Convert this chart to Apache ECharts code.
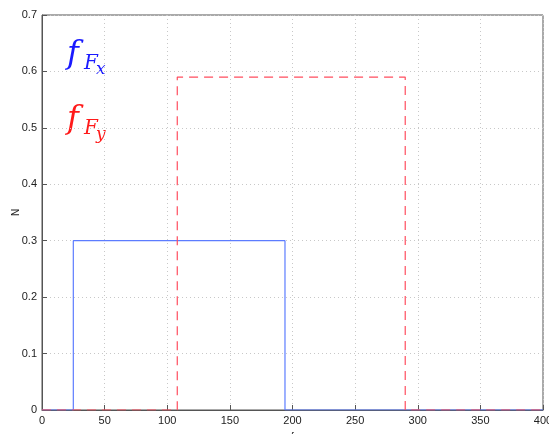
<!DOCTYPE html>
<html>
<head>
<meta charset="utf-8">
<script src="https://cdn.jsdelivr.net/npm/echarts@6/dist/echarts.min.js"></script>
<style>
  html, body { margin: 0; padding: 0; background: #fff; }
  #chart { width: 549px; height: 434px; }
</style>
</head>
<body>
<div id="chart"></div>
<script>
// Two rectangular densities drawn as step outlines
const xTicks = [0, 50, 100, 150, 200, 250, 300, 350, 400];
const yTicks = [0, 0.1, 0.2, 0.3, 0.4, 0.5, 0.6, 0.7];

const fxEdges = [0, 25, 25, 194, 194, 400];
const fxValues = [0, 0, 0.3, 0.3, 0, 0];

const fyEdges = [0, 108, 108, 290, 290, 400];
const fyValues = [0, 0, 0.59, 0.59, 0, 0];

const pair = (xs, ys) => xs.map((x, i) => [x, ys[i]]);

const chart = echarts.init(document.getElementById('chart'));
const font = 'Liberation Sans, Arial, sans-serif';

chart.setOption({
  animation: false,
  grid: { left: 42, right: 6, top: 15, bottom: 24, containLabel: false,
          outerBoundsMode: 'none',
          show: true, borderColor: '#555', borderWidth: 1 },
  xAxis: {
    type: 'value', min: xTicks[0], max: xTicks[xTicks.length - 1], interval: 50,
    name: 'f', nameLocation: 'middle', nameGap: 22, nameMoveOverlap: false,
    nameTextStyle: { fontFamily: font, fontSize: 10, color: '#222' },
    axisLine: { show: true, onZero: false, lineStyle: { color: '#555' } },
    axisTick: { show: true, inside: true, length: 5, lineStyle: { color: '#555' } },
    axisLabel: { fontFamily: font, fontSize: 11, color: '#222', margin: 5 },
    splitLine: { show: true, lineStyle: { color: '#c8c8c8', type: [1, 3] } }
  },
  yAxis: {
    type: 'value', min: yTicks[0], max: yTicks[yTicks.length - 1], interval: 0.1,
    name: 'N', nameLocation: 'middle', nameGap: 21, nameRotate: 90, nameMoveOverlap: false,
    nameTextStyle: { fontFamily: font, fontSize: 10, color: '#222' },
    axisLine: { show: true, lineStyle: { color: '#555' } },
    axisTick: { show: true, inside: true, length: 5, lineStyle: { color: '#555' } },
    axisLabel: { fontFamily: font, fontSize: 11, color: '#222', margin: 5,
                 formatter: v => (v === 0 ? '0' : v.toFixed(1)) },
    splitLine: { show: true, lineStyle: { color: '#c8c8c8', type: [1, 3] } }
  },
  series: [
    {
      name: 'fFx', type: 'line', data: pair(fxEdges, fxValues),
      symbol: 'none', z: 3,
      lineStyle: { color: '#5c7cff', width: 1.2 }
    },
    {
      name: 'fFy', type: 'line', data: pair(fyEdges, fyValues),
      symbol: 'none', z: 4,
      lineStyle: { color: '#ff4d5e', width: 1.2, type: [9, 6] }
    }
  ],
  graphic: [
    { type: 'text', left: 67, top: 39, style: { text: 'f', fill: '#1a1aff', font: 'italic 32px "DejaVu Serif", serif' } },
    { type: 'text', left: 84, top: 54, style: { text: 'F', fill: '#1a1aff', font: 'italic 20px "DejaVu Serif", serif' } },
    { type: 'text', left: 96, top: 61, style: { text: 'x', fill: '#1a1aff', font: 'italic 17px "DejaVu Serif", serif' } },
    { type: 'text', left: 67, top: 104, style: { text: 'f', fill: '#ff1a1a', font: 'italic 32px "DejaVu Serif", serif' } },
    { type: 'text', left: 84, top: 119, style: { text: 'F', fill: '#ff1a1a', font: 'italic 20px "DejaVu Serif", serif' } },
    { type: 'text', left: 96, top: 126, style: { text: 'y', fill: '#ff1a1a', font: 'italic 17px "DejaVu Serif", serif' } }
  ]
});
</script>
</body>
</html>
